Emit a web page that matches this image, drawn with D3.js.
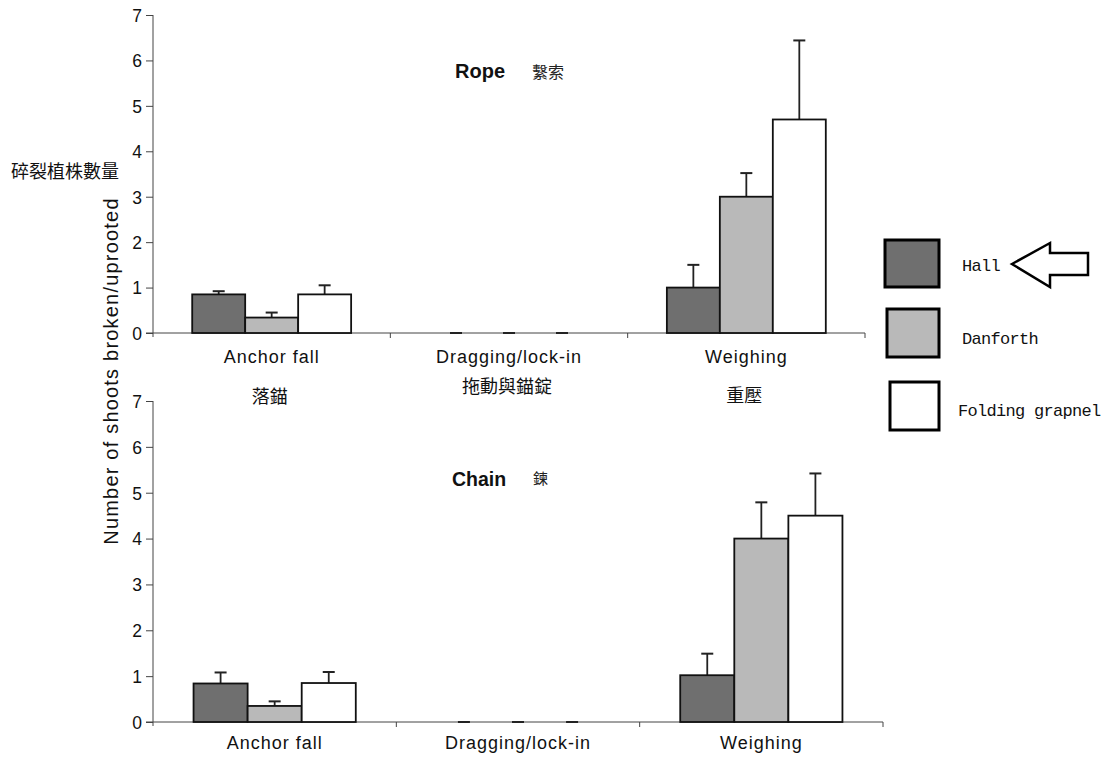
<!DOCTYPE html>
<html><head><meta charset="utf-8">
<script src="https://cdn.jsdelivr.net/npm/d3@7"></script>
<style>body{margin:0;background:#fff}</style>
</head><body>
<svg id="c" width="1103" height="757"></svg>
<script>
const categories = ["Anchor fall", "Dragging/lock-in", "Weighing"];
const categoriesZh = ["落錨", "拖動與錨錠", "重壓"];
const series = ["Hall", "Danforth", "Folding grapnel"];
const colors = ["#6f6f6f", "#b9b9b9", "#ffffff"];
const yTicks = [0, 1, 2, 3, 4, 5, 6, 7];
// Rope panel: mean and upper error per category, per series
const ropeValues = [[0.85, 0, 1.0], [0.34, 0, 3.0], [0.85, 0, 4.7]];
const ropeErrors = [[0.92, 0, 1.5], [0.45, 0, 3.52], [1.05, 0, 6.44]];
// Chain panel
const chainValues = [[0.84, 0, 1.02], [0.35, 0, 4.0], [0.85, 0, 4.5]];
const chainErrors = [[1.08, 0, 1.49], [0.45, 0, 4.79], [1.09, 0, 5.42]];

const svg = d3.select("#c");
const sans = "'Liberation Sans', Arial, Helvetica, sans-serif";
const cjk = "'Noto Sans CJK TC', 'Noto Sans CJK SC', sans-serif";

function panel(opt) {
  const x = d3.scaleBand().domain(categories).range([opt.x0, opt.x1]).paddingInner(0).paddingOuter(0);
  const xs = d3.scaleBand().domain(series).range([0, x.bandwidth()]).paddingInner(0).paddingOuter(opt.po);
  const y = d3.scaleLinear().domain([0, 7]).range([opt.yb, opt.yt]);
  const g = svg.append("g");

  // y axis
  const ya = g.append("g").attr("transform", `translate(${opt.x0},0)`)
    .call(d3.axisLeft(y).tickValues(yTicks).tickFormat(d3.format("d")).tickSize(7).tickSizeOuter(0).tickPadding(4));
  ya.select(".domain").attr("stroke", "#444").attr("d", `M0,${y(7)}V${y(0) + 4}`);
  ya.selectAll(".tick line").attr("stroke", "#444");
  ya.selectAll("text").attr("font-family", sans).attr("font-size", 17.5).attr("fill", "#111").attr("dy", "0.36em");

  // x axis line and boundary ticks
  g.append("line").attr("x1", opt.x0 - 7).attr("x2", opt.x1).attr("y1", y(0)).attr("y2", y(0)).attr("stroke", "#444");
  const bounds = categories.slice(1).map(c => x(c)).concat([opt.x1]);
  g.selectAll(".xt").data(bounds).enter().append("line")
    .attr("x1", d => d).attr("x2", d => d).attr("y1", y(0)).attr("y2", y(0) + 5).attr("stroke", "#444");

  // bars
  const vals = opt.values, errs = opt.errors;
  series.forEach((s, si) => {
    categories.forEach((c, ci) => {
      const v = vals[si][ci], e = errs[si][ci];
      const bx = x(c) + xs(s), bw = xs.bandwidth(), cx = bx + bw / 2;
      if (v > 0) {
        g.append("line").attr("x1", cx).attr("x2", cx).attr("y1", y(v)).attr("y2", y(e))
          .attr("stroke", "#222").attr("stroke-width", 1.8);
        g.append("rect").attr("x", bx).attr("y", y(v)).attr("width", bw).attr("height", y(0) - y(v))
          .attr("fill", colors[si]).attr("stroke", "#111").attr("stroke-width", 1.8);
      }
      g.append("line").attr("x1", cx - 6).attr("x2", cx + 6).attr("y1", y(e)).attr("y2", y(e))
        .attr("stroke", "#222").attr("stroke-width", 2);
    });
  });

  // category labels
  g.selectAll(".cl").data(categories).enter().append("text")
    .attr("x", d => x(d) + x.bandwidth() / 2).attr("y", opt.labY)
    .attr("text-anchor", "middle").attr("font-family", sans).attr("font-size", 18)
    .attr("letter-spacing", 1).attr("fill", "#111").text(d => d);
  return x;
}

const xTop = panel({x0: 153, x1: 865, yb: 333, yt: 15, po: 0.74, values: ropeValues, errors: ropeErrors, labY: 363});
panel({x0: 153, x1: 883, yb: 722, yt: 401, po: 0.75, values: chainValues, errors: chainErrors, labY: 749});

// Chinese category labels (top panel)
const zhY = [403, 393, 402];
svg.selectAll(".zh").data(categoriesZh).enter().append("text")
  .attr("x", (d, i) => xTop(categories[i]) + xTop.bandwidth() / 2 - 2).attr("y", (d, i) => zhY[i])
  .attr("text-anchor", "middle").attr("font-family", cjk).attr("font-size", 18).attr("fill", "#111").text(d => d);

// panel titles
svg.append("text").attr("x", 455).attr("y", 78).attr("font-family", sans).attr("font-weight", "bold")
  .attr("font-size", 20).attr("fill", "#111").text("Rope");
svg.append("text").attr("x", 532).attr("y", 78).attr("font-family", cjk).attr("font-size", 16).attr("fill", "#222").text("繫索");
svg.append("text").attr("x", 452).attr("y", 486).attr("font-family", sans).attr("font-weight", "bold")
  .attr("font-size", 19.5).attr("fill", "#111").text("Chain");
svg.append("text").attr("x", 533).attr("y", 484).attr("font-family", cjk).attr("font-size", 15).attr("fill", "#222").text("鍊");

// y title
svg.append("text").attr("transform", "translate(118,371) rotate(-90)").attr("text-anchor", "middle")
  .attr("font-family", sans).attr("font-size", 20).attr("letter-spacing", 1.2).attr("fill", "#111")
  .text("Number of shoots broken/uprooted");
svg.append("text").attr("x", 11).attr("y", 178).attr("font-family", cjk).attr("font-size", 18).attr("fill", "#111").text("碎裂植株數量");

// legend
const legBoxes = [[885, 240, 54, 47], [887, 309, 52, 48], [890, 382, 49, 48]];
const legText = [[962, 271], [962, 344], [958, 416]];
series.forEach((s, i) => {
  const b = legBoxes[i];
  svg.append("rect").attr("x", b[0]).attr("y", b[1]).attr("width", b[2]).attr("height", b[3])
    .attr("fill", colors[i]).attr("stroke", "#000").attr("stroke-width", 3);
  svg.append("text").attr("x", legText[i][0]).attr("y", legText[i][1])
    .attr("font-family", "'Liberation Mono', 'DejaVu Sans Mono', monospace").attr("font-size", 17)
    .attr("letter-spacing", -0.7).attr("fill", "#111").text(s);
});
// arrow
svg.append("path").attr("d", "M1012,264 L1050,243 L1050,253 L1088,253 L1088,275 L1050,275 L1050,287 Z")
  .attr("fill", "#fff").attr("stroke", "#000").attr("stroke-width", 2.5).attr("stroke-linejoin", "miter");
</script>
</body></html>
